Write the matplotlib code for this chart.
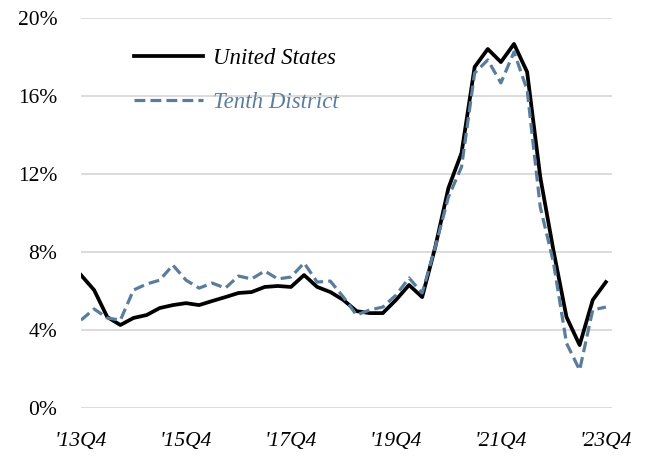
import numpy as np
import matplotlib
matplotlib.use("Agg")
import matplotlib.pyplot as plt
from matplotlib.ticker import FuncFormatter

plt.rcParams['font.family'] = ['Liberation Serif', 'DejaVu Serif']

# quarterly, '13Q4 .. '23Q4 (percent)
us = [6.82, 6.05, 4.67, 4.26, 4.62, 4.77, 5.13, 5.28, 5.38, 5.28,
      5.49, 5.69, 5.90, 5.95, 6.21, 6.26, 6.21, 6.82, 6.21, 5.95,
      5.54, 4.97, 4.87, 4.87, 5.54, 6.31, 5.69, 8.26, 11.28, 13.08,
      17.49, 18.41, 17.74, 18.67, 17.23, 11.85, 8.10, 4.67, 3.23, 5.54,
      6.46]
tenth = [4.51, 5.08, 4.62, 4.51, 6.05, 6.36, 6.56, 7.33, 6.56, 6.15,
         6.41, 6.15, 6.77, 6.62, 7.03, 6.62, 6.72, 7.44, 6.46, 6.51,
         5.69, 4.77, 5.03, 5.18, 5.79, 6.67, 5.90, 8.26, 10.82, 12.36,
         17.18, 17.85, 16.67, 18.26, 16.31, 10.31, 7.49, 3.33, 1.95, 5.03,
         5.18]
tick_labels = ["'13Q4", "'15Q4", "'17Q4", "'19Q4", "'21Q4", "'23Q4"]
y_ticks = [0, 4, 8, 12, 16, 20]

x = np.arange(len(us))
blue = '#5a7d9e'

fig = plt.figure(figsize=(6.46, 4.58), dpi=100)
ax = fig.add_axes([0.1254, 0.109, 0.8216, 0.8517])

ax.plot(x, us, color='black', lw=2.7, label='United States', zorder=3)
ax.plot(x, tenth, color=blue, lw=2.3, ls=(0, (3.4, 1.6)), label='Tenth District', zorder=4)

ax.set_xlim(0, 40.45)
ax.set_ylim(0, 20)
ax.set_yticks(y_ticks)
ax.yaxis.set_major_formatter(FuncFormatter(lambda v, p: f"{v:.0f}%"))
ax.set_xticks(x[::8])
ax.set_xticklabels(tick_labels, fontstyle='italic')
ax.tick_params(axis='both', length=0, labelsize=15.5)
ax.tick_params(axis='y', pad=17)
ax.tick_params(axis='x', pad=17)
ax.grid(axis='y', color='#d9d9d9', lw=1.3)
ax.set_axisbelow(True)
for s in ax.spines.values():
    s.set_visible(False)

leg = ax.legend(loc='upper left', bbox_to_anchor=(0.208, 0.895), bbox_transform=fig.transFigure,
                frameon=False, prop={'style': 'italic', 'size': 16.5},
                handlelength=3.0, handletextpad=0.45, labelspacing=1.0,
                borderaxespad=0, borderpad=0)
for txt, c in zip(leg.get_texts(), ['black', blue]):
    txt.set_color(c)

fig.savefig('out.png', dpi=100)
